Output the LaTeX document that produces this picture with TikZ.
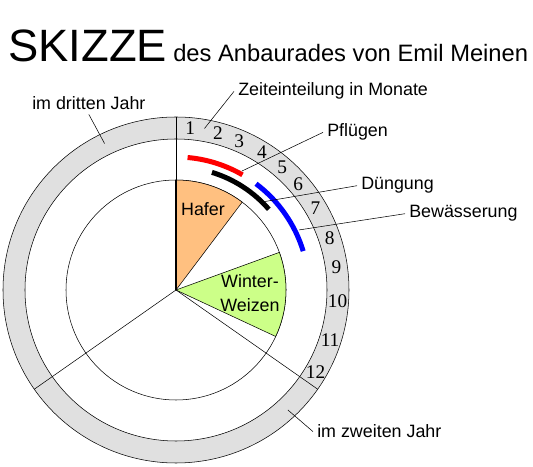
\documentclass[tikz,border=0pt]{standalone}
\usepackage{fontspec}
\setmainfont{Liberation Sans}
\newfontfamily\numfont{Liberation Serif}
\definecolor{bandgray}{RGB}{224,224,224}
\definecolor{haferorange}{RGB}{255,192,128}
\definecolor{weizengreen}{RGB}{204,255,136}
\begin{document}
\begin{tikzpicture}[x=0.75pt, y=0.75pt,
    lbl/.style={anchor=base west, inner sep=3pt, font=\fontsize{13.4}{16}\selectfont},
    month/.style={font=\numfont\fontsize{14.5}{16}\selectfont, inner sep=0pt},
    crop/.style={font=\fontsize{13.4}{18}\selectfont, align=center, inner sep=0pt},
    work/.style={line width=3.75pt}]
    \useasboundingbox (-176,-177) rectangle (357,290);

    % Points
    \coordinate (C) at (0,0);
    \coordinate (dritt-end) at (116:163);
    \coordinate (zeit-end) at (80:164);
    \coordinate (pfl-end) at (61:136);
    \coordinate (dueng-end) at (45:125);
    \coordinate (bew-end) at (26:137);
    \coordinate (zweit-end) at (-47:164);

    % Title
    \node[anchor=base west, inner sep=0pt, font=\fontsize{34}{40}\selectfont] (skizze) at (-168,228) {SKIZZE};
    \node[anchor=base west, inner sep=0pt, font=\fontsize{17.8}{21}\selectfont] (titel) at (-3,228) {des Anbaurades von Emil Meinen};

    % Year ring
    \fill[bandgray, even odd rule] (C) circle (173) (C) circle (151);
    \draw (C) circle (173);
    \draw (C) circle (151);
    \draw (C) circle (110);

    % Crops
    \filldraw[fill=haferorange] (C) -- (53:110) arc (53:90:110) -- cycle;
    \filldraw[fill=weizengreen] (C) -- (-25:110) arc (-25:20:110) -- cycle;
    \draw[line width=1.5pt] (C) -- (90:110);
    \node[crop] (hafer) at (27,81) {Hafer};
    \node[crop] (weizen) at (74,-3) {Winter-\\Weizen};

    % Years
    \draw (C) -- (90:173);
    \draw (C) -- (-35:173);
    \draw (C) -- (215:173);

    % Months
    \foreach \m/\a in {1/85, 2/75, 3/67, 4/58, 5/49, 6/41, 7/30.5, 8/18.5, 9/8, 10/-4, 11/-18, 12/-30.5}
        \node[month] (m\m) at (\a:162) {\m};

    % Work
    \draw[work, red] (85:133) arc (85:60:133);
    \draw[work, black] (73:123) arc (73:41:123);
    \draw[work, blue] (53:133) arc (53:17:133);

    % Labels
    \node[lbl] (dritt) at (-148,180) {im dritten Jahr};
    \node[lbl] (zeit) at (58,194) {Zeiteinteilung in Monate};
    \node[lbl] (pfl) at (147,153) {Pflügen};
    \node[lbl] (dueng) at (181,100) {Düngung};
    \node[lbl] (bew) at (229,72) {Bewässerung};
    \node[lbl] (zweit) at (137,-148) {im zweiten Jahr};

    % Leaders
    \draw (dritt.south) -- (dritt-end);
    \draw (zeit.west) -- (zeit-end);
    \draw (pfl.west) -- (pfl-end);
    \draw (dueng.west) -- (dueng-end);
    \draw (bew.west) -- (bew-end);
    \draw (zweit.west) -- (zweit-end);
\end{tikzpicture}
\end{document}
